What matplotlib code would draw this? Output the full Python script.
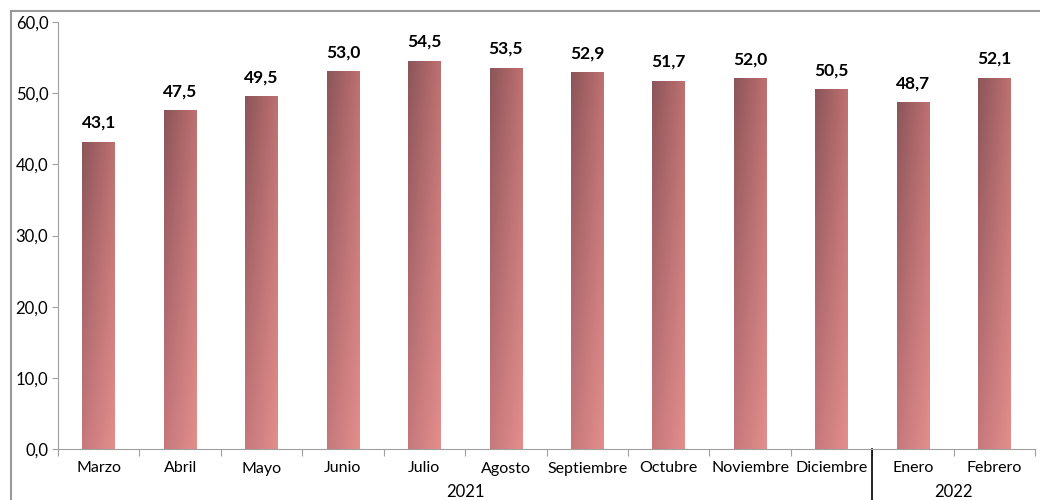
import numpy as np
import matplotlib.pyplot as plt
from matplotlib.lines import Line2D

months = ["Marzo", "Abril", "Mayo", "Junio", "Julio", "Agosto", "Septiembre",
          "Octubre", "Noviembre", "Diciembre", "Enero", "Febrero"]
values = [43.1, 47.5, 49.5, 53.0, 54.5, 53.5, 52.9, 51.7, 52.0, 50.5, 48.7, 52.1]
years = ["2021", "2022"]
year_pos = [4.5, 10.5]

plt.rcParams['font.family'] = ['Lato', 'DejaVu Sans']

fig = plt.figure(figsize=(10.4, 5), dpi=100)
ax = fig.add_axes([58/1040, 51/500, 977/1040, 427/500])

# gradient colours: top-left dark, bottom-right light
tl = np.array([140, 85, 90]) / 255
tr = np.array([190, 112, 112]) / 255
bl = np.array([198, 120, 124]) / 255
br = np.array([226, 142, 140]) / 255
nx, ny = 40, 100
u = np.linspace(0, 1, nx)[None, :, None]
v = np.linspace(0, 1, ny)[:, None, None]
grad = (1 - v) * ((1 - u) * tl + u * tr) + v * ((1 - u) * bl + u * br)

w = 0.4
for i, val in enumerate(values):
    ax.imshow(grad, extent=[i - w/2, i + w/2, 0, val], origin='upper',
              aspect='auto', zorder=2, interpolation='bilinear')
    ax.text(i, val + 1.6, f"{val:.1f}".replace('.', ','), ha='center', va='bottom',
            fontsize=12.5, fontweight='bold', color='black')

ax.set_xlim(-0.5, 11.5)
ax.set_ylim(0, 60)
ax.set_yticks(np.arange(0, 61, 10))
ax.set_yticklabels([f"{t:.1f}".replace('.', ',') for t in np.arange(0, 61, 10)],
                   fontsize=12)
ax.set_xticks(np.arange(-0.5, 12, 1))
ax.set_xticklabels([])
ax.set_xticks(range(12), minor=True)
ax.set_xticklabels(months, minor=True, fontsize=11.5)
ax.tick_params(axis='x', which='minor', length=0, pad=9)
ax.tick_params(axis='x', which='major', length=5, color='#a0a0a0', direction='out')
ax.tick_params(axis='y', length=4, color='#a0a0a0', pad=3)
for s in ['top', 'right']:
    ax.spines[s].set_visible(False)
for s in ['left', 'bottom']:
    ax.spines[s].set_color('#a0a0a0')

for yr, xp in zip(years, year_pos):
    ax.text(xp, -0.083, yr, transform=ax.get_xaxis_transform(), ha='center',
            va='top', fontsize=12)

# separator between years
ax.add_line(Line2D([9.5, 9.5], [0, -0.2], transform=ax.get_xaxis_transform(),
                   color='black', lw=1.2, clip_on=False))

# outer frame (left and top edges visible)
fx = 10.5 / 1040
fy = 1 - 10.5 / 500
fig.add_artist(Line2D([fx, fx], [0, fy], transform=fig.transFigure,
                      color='#999999', lw=1.5, zorder=5))
fig.add_artist(Line2D([fx, 1], [fy, fy], transform=fig.transFigure,
                      color='#999999', lw=1.5, zorder=5))

fig.savefig('out.png', dpi=100)
